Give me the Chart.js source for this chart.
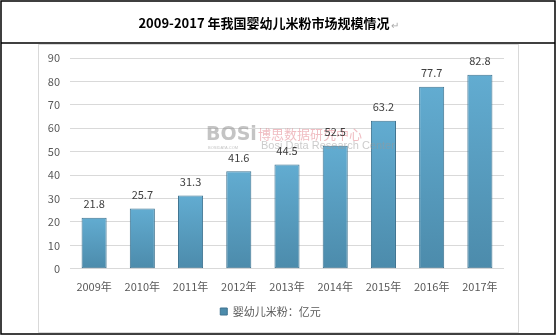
<!DOCTYPE html>
<html>
<head>
<meta charset="utf-8">
<script src="https://cdn.jsdelivr.net/npm/chart.js@4.4.0/dist/chart.umd.min.js"></script>
<style>
  html, body { margin: 0; padding: 0; background: #fff; }
  #wrap { position: relative; width: 556px; height: 336px; }
</style>
</head>
<body>
<div id="wrap"><canvas id="chartCanvas" width="556" height="336"></canvas></div>
<script>
const years = ["2009年", "2010年", "2011年", "2012年", "2013年", "2014年", "2015年", "2016年", "2017年"];
const marketSize = [21.8, 25.7, 31.3, 41.6, 44.5, 52.5, 63.2, 77.7, 82.8];
const seriesName = "婴幼儿米粉：亿元";
const titleText = "2009-2017 年我国婴幼儿米粉市场规模情况";

const FONT = "'Microsoft YaHei', 'Noto Sans CJK SC', sans-serif";

// outer table frame, inner chart box, title, watermark
const framePlugin = {
  id: "frame",
  beforeDraw(chart) {
    const ctx = chart.ctx;
    ctx.save();
    ctx.fillStyle = "#fff";
    ctx.fillRect(0, 0, 556, 336);

    ctx.strokeStyle = "#d9d9d9";
    ctx.lineWidth = 1;
    ctx.strokeRect(38.5, 44.5, 480, 288);

    ctx.strokeStyle = "#000";
    ctx.lineWidth = 1.5;
    ctx.strokeRect(1, 1, 554, 333);
    ctx.beginPath();
    ctx.moveTo(1, 43);
    ctx.lineTo(555, 43);
    ctx.stroke();

    ctx.fillStyle = "#000";
    ctx.font = "bold 13px " + FONT;
    ctx.textAlign = "center";
    ctx.textBaseline = "middle";
    ctx.fillText(titleText, 264, 23);
    const w = ctx.measureText(titleText).width;
    ctx.fillStyle = "#aaa";
    ctx.font = "10px " + FONT;
    ctx.textAlign = "left";
    ctx.fillText("↵", 264 + w / 2 + 1, 25);
    ctx.restore();
  },
  afterDatasetsDraw(chart) {
    const ctx = chart.ctx;
    ctx.save();
    // watermark
    ctx.globalAlpha = 0.5;
    ctx.fillStyle = "#8a8a8a";
    ctx.font = "bold 19px 'DejaVu Sans', sans-serif";
    ctx.textBaseline = "middle";
    ctx.textAlign = "left";
    ctx.fillText("BOSi", 206, 135);
    ctx.font = "4px sans-serif";
    ctx.fillText("BOSIDATA.COM", 208, 148);
    ctx.fillStyle = "#e27c86";
    ctx.font = "13px " + FONT;
    ctx.fillText("博思数据研究中心", 258, 134);
    ctx.fillStyle = "#999";
    ctx.font = "11px 'Liberation Sans', sans-serif";
    ctx.fillText("Bosi Data Research Center", 261, 146);
    ctx.globalAlpha = 1;

    // value labels
    ctx.fillStyle = "#404040";
    ctx.font = "11px " + FONT;
    ctx.textAlign = "center";
    ctx.textBaseline = "middle";
    chart.getDatasetMeta(0).data.forEach((bar, i) => {
      ctx.fillText(marketSize[i].toFixed(1), bar.x, bar.y - 14);
    });
    ctx.restore();
  }
};

// each bar gets its own light-to-dark fill from top to bottom
function barFill(context) {
  const chart = context.chart;
  const y = chart.scales.y;
  if (!chart.chartArea || !y || context.raw === undefined) return "#5a9fc3";
  const top = y.getPixelForValue(context.raw);
  const bottom = y.getPixelForValue(0);
  if (!isFinite(top) || !isFinite(bottom)) return "#5a9fc3";
  const g = chart.ctx.createLinearGradient(0, top, 0, bottom);
  g.addColorStop(0, "#62acd1");
  g.addColorStop(1, "#4c8bab");
  return g;
}

const ctx = document.getElementById("chartCanvas").getContext("2d");

new Chart(ctx, {
  type: "bar",
  data: {
    labels: years,
    datasets: [{
      label: seriesName,
      data: marketSize,
      backgroundColor: barFill,
      borderColor: "#3e7390",
      borderWidth: 1,
      borderSkipped: false,
      barPercentage: 0.52,
      categoryPercentage: 1
    }]
  },
  options: {
    responsive: false,
    animation: false,
    layout: { padding: { left: 37, right: 52, top: 58, bottom: 9 } },
    scales: {
      x: {
        grid: { display: false },
        border: { display: false },
        ticks: { color: "#595959", font: { size: 11, family: FONT }, maxRotation: 0, padding: 3 }
      },
      y: {
        min: 0,
        max: 90,
        afterFit(scale) { scale.width = 33; },
        grid: { color: "#d9d9d9", drawTicks: false },
        border: { display: false },
        ticks: { stepSize: 10, color: "#595959", font: { size: 11, family: FONT }, padding: 10 }
      }
    },
    plugins: {
      legend: {
        position: "bottom",
        labels: { boxWidth: 7, boxHeight: 7, color: "#595959", font: { size: 11, family: FONT }, padding: 10 }
      },
      tooltip: { enabled: false }
    }
  },
  plugins: [framePlugin]
});
</script>
</body>
</html>
